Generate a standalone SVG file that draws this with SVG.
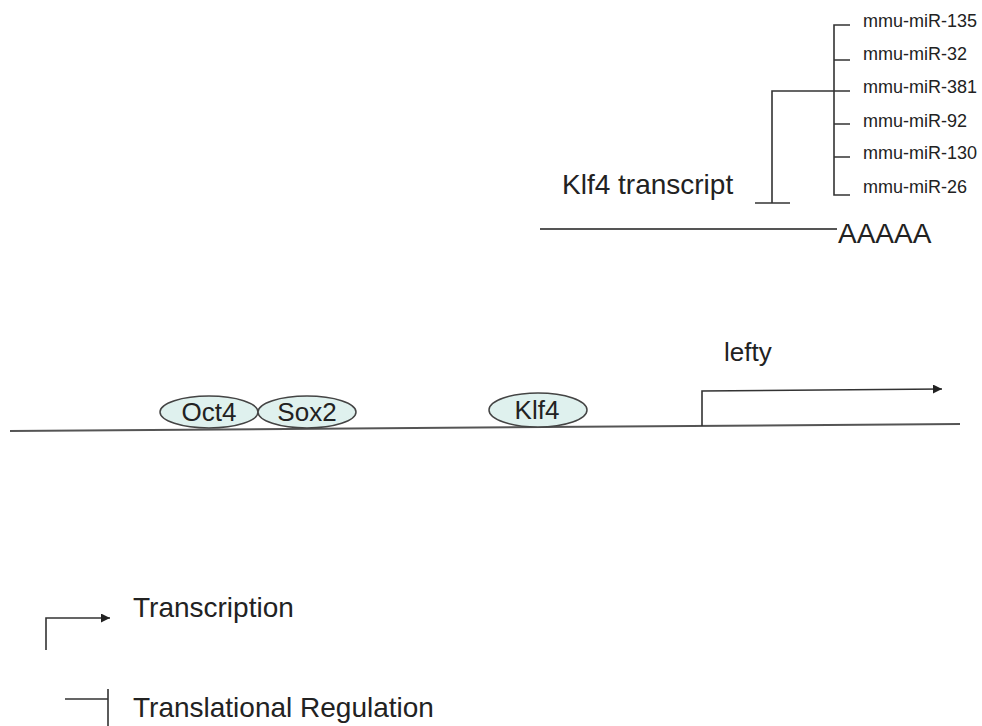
<svg xmlns="http://www.w3.org/2000/svg" width="982" height="726" viewBox="0 0 982 726">
<style>
text{font-family:"Liberation Sans",Arial,sans-serif;fill:#222}
.mir{font-size:18px}
.big{font-size:28px}
.ln{stroke:#333;stroke-width:1.6;fill:none}
.dna{stroke:#555;stroke-width:2;fill:none}
.tf{fill:#dff1ee;stroke:#444;stroke-width:1.5}
.tf-t{font-size:26px;text-anchor:middle}
</style>
<defs>
<marker id="ah" viewBox="0 0 10 10" refX="10" refY="5" markerWidth="12" markerHeight="9" markerUnits="userSpaceOnUse" orient="auto">
<path d="M0,0 L10,5 L0,10 z" fill="#222"/>
</marker>
</defs>
<rect width="982" height="726" fill="#fff"/>
<g id="connectors">
<path class="ln" d="M850,25 H834 V195 H850"/>
<path class="ln" d="M834,60 H850 M834,124 H850 M834,157 H850"/>
<path class="ln" d="M772,203 V91 H850"/>
<path class="ln" d="M755,203 H790"/>
<path class="dna" d="M540,229 H837"/>
<path class="dna" d="M10,431 L960,424"/>
<path class="ln" d="M702,426 V391 L942,389" marker-end="url(#ah)"/>
</g>
<g id="mirs">
<text class="mir" x="863" y="27">mmu-miR-135</text>
<text class="mir" x="863" y="60">mmu-miR-32</text>
<text class="mir" x="863" y="93">mmu-miR-381</text>
<text class="mir" x="863" y="127">mmu-miR-92</text>
<text class="mir" x="863" y="159">mmu-miR-130</text>
<text class="mir" x="863" y="193">mmu-miR-26</text>
</g>
<g id="transcript">
<text class="big" x="562" y="194">Klf4 transcript</text>
<text class="big" x="838" y="243">AAAAA</text>
</g>
<g id="oct4">
<ellipse class="tf" cx="209" cy="412" rx="49" ry="16"/>
<text class="tf-t" x="209" y="421">Oct4</text>
</g>
<g id="sox2">
<ellipse class="tf" cx="307" cy="412" rx="49" ry="16"/>
<text class="tf-t" x="307" y="421">Sox2</text>
</g>
<g id="klf4">
<ellipse class="tf" cx="538" cy="410" rx="49" ry="17"/>
<text class="tf-t" x="537" y="419">Klf4</text>
</g>
<g id="lefty">
<text x="724" y="361" style="font-size:26px">lefty</text>
</g>
<g id="legend">
<path class="ln" d="M46,650 V618 H110" marker-end="url(#ah)"/>
<text class="big" x="133" y="617">Transcription</text>
<path class="ln" d="M65,699 H108 M108,689 V726"/>
<text class="big" x="133" y="717">Translational Regulation</text>
</g>
</svg>
